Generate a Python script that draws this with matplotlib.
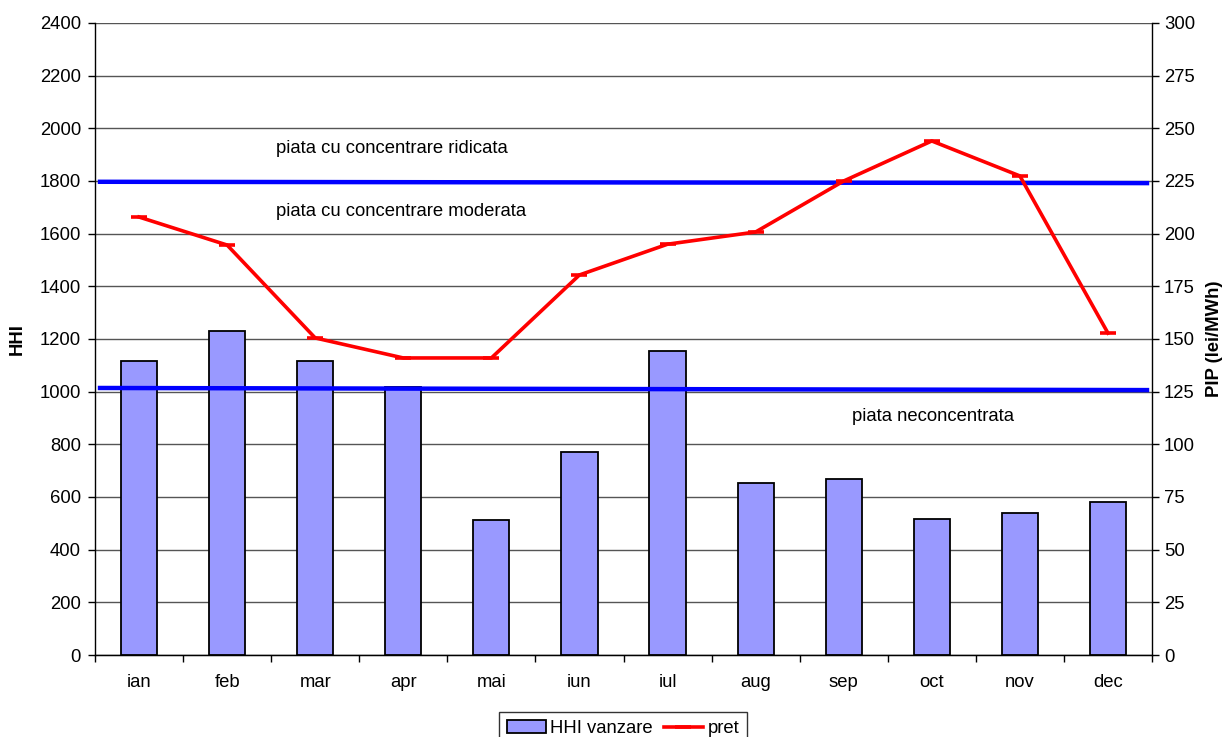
import matplotlib
matplotlib.use("Agg")
import matplotlib.pyplot as plt
import numpy as np

months = ["ian", "feb", "mar", "apr", "mai", "iun", "iul", "aug", "sep", "oct", "nov", "dec"]
hhi = [1116, 1230, 1118, 1018, 513, 771, 1154, 653, 668, 516, 539, 581]
pret = [207.9, 194.6, 150.5, 141, 141, 180.4, 195, 200.8, 225, 244, 227.4, 152.8]
thr_high = [1797, 1792]
thr_low = [1014, 1006]

plt.rcParams['font.family'] = ['Liberation Sans', 'DejaVu Sans']
fs = 13.3

fig = plt.figure(figsize=(12.24, 7.37), dpi=100)
ax = fig.add_axes([95/1224, 1-655/737, (1152-95)/1224, (655-23)/737])
x = np.arange(len(months))
ax.bar(x, hhi, width=0.41, color='#9999ff', edgecolor='black', linewidth=1.3, zorder=3, label='HHI vanzare')
ax.set_xlim(-0.5, 11.5)
ax.set_ylim(0, 2400)
ax.set_yticks(np.arange(0, 2401, 200))
ax.set_xticks(x)
ax.set_xticklabels(months, fontsize=fs)
ax.set_xticks(np.arange(-0.5, 12, 1), minor=True)
ax.tick_params(axis='x', which='major', length=0, pad=14)
ax.tick_params(axis='x', which='minor', length=5, width=1)
ax.tick_params(axis='y', labelsize=fs, length=5, width=1, direction='out', pad=5)
ax.grid(axis='y', color='#555555', linewidth=1, zorder=0)
for s in ['top', 'right']:
    ax.spines[s].set_visible(False)
ax.spines['left'].set_linewidth(1)
ax.spines['bottom'].set_linewidth(1)
ax.set_ylabel('HHI', fontsize=fs, fontweight='bold', labelpad=10)

# threshold lines
ax.plot([-0.443, 11.443], thr_high, color='#0000ff', linewidth=3.2, zorder=5)
ax.plot([-0.443, 11.443], thr_low, color='#0000ff', linewidth=3.2, zorder=5)

ax.text(1.555, 1925, 'piata cu concentrare ridicata', fontsize=fs, ha='left', va='center')
ax.text(1.555, 1685, 'piata cu concentrare moderata', fontsize=fs, ha='left', va='center')
ax.text(8.095, 907, 'piata neconcentrata', fontsize=fs, ha='left', va='center')

ax2 = ax.twinx()
ax2.set_ylim(0, 300)
ax2.set_yticks(np.arange(0, 301, 25))
ln, = ax2.plot(x, pret, color='#ff0000', linewidth=2.6, marker='_', markersize=12, markeredgewidth=2.6, zorder=6, label='pret')
ax2.tick_params(axis='y', labelsize=fs, length=5, width=1, direction='out')
for s in ['top', 'left']:
    ax2.spines[s].set_visible(False)
ax2.spines['right'].set_linewidth(1)
ax2.set_ylabel('PIP (lei/MWh)', fontsize=fs, fontweight='bold', labelpad=8)

h1, l1 = ax.get_legend_handles_labels()
leg = fig.legend(h1 + [ln], l1 + ['pret'], loc='upper center', bbox_to_anchor=(623/1224, 1-712/737),
                 ncol=2, fontsize=fs, frameon=True, fancybox=False, edgecolor='black',
                 handlelength=2.1, handletextpad=0.25, columnspacing=0.6, borderpad=0.45,
                 borderaxespad=0)
leg.get_frame().set_linewidth(1)

fig.savefig('out.png', dpi=100)
